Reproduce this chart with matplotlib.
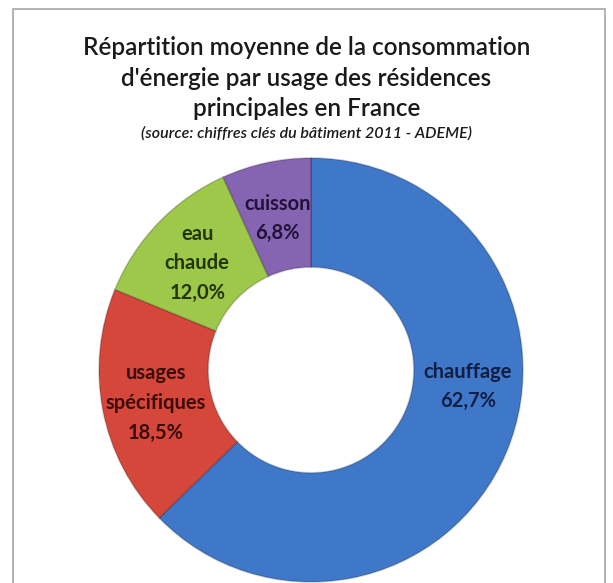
import matplotlib.pyplot as plt
import numpy as np
from matplotlib.patches import Rectangle

usages = ['chauffage', 'usages\nspécifiques', 'eau\nchaude', 'cuisson']
parts = [62.7, 18.5, 12.0, 6.8]
couleurs = ['#3f78c8', '#d4473a', '#9dc84a', '#8564b2']
couleurs_txt = ['#0f1f45', '#3a0c08', '#233508', '#221238']

W, H = 613, 583
fig = plt.figure(figsize=(W / 100, H / 100), dpi=100)
ax = fig.add_axes([0, 0, 1, 1])

# cadre gris autour du graphique
ax.add_patch(Rectangle((13, -5), 592, H - 9 + 5, fill=False,
                       edgecolor='#a6a6a6', linewidth=1.2))

cx, cy, R = 311, H - 370, 212
wedges, texts = ax.pie(parts, colors=couleurs, startangle=90, counterclock=False,
                       center=(cx, cy), radius=R, frame=True,
                       wedgeprops=dict(width=R * 0.515, edgecolor='#00000030',
                                       linewidth=1.2),
                       labels=[f'{u}\n{p:.1f}%'.replace('.', ',') for u, p in zip(usages, parts)],
                       labeldistance=0.745)
ax.set_xlim(0, W)
ax.set_ylim(0, H)
ax.axis('off')

for t, c in zip(texts, couleurs_txt):
    t.set_ha('center')
    t.set_va('center')
    t.set_color(c)
    t.set_fontsize(14.5)
    t.set_fontweight('bold')
    t.set_fontfamily('Lato')
    t.set_linespacing(1.6)
    x, y = t.get_position()
    t.set_position((x, y - 3))

# Excel remonte l'étiquette du chauffage
ang = np.deg2rad(-6)
texts[0].set_position((cx + 0.745 * R * np.cos(ang), cy + 0.745 * R * np.sin(ang)))

fig.text(0.5, 1 - 78 / H, "Répartition moyenne de la consommation\nd'énergie par usage des résidences\nprincipales en France",
         ha='center', va='center', fontsize=17.5, family='Lato', weight='semibold',
         color='#1a1a1a', linespacing=1.42)
fig.text(0.5, 1 - 133 / H, '(source: chiffres clés du bâtiment 2011 - ADEME)',
         ha='center', va='center', fontsize=11.5, style='italic', family='Lato',
         weight='semibold', color='#1a1a1a')

fig.savefig('out.png', dpi=100, facecolor='white')
